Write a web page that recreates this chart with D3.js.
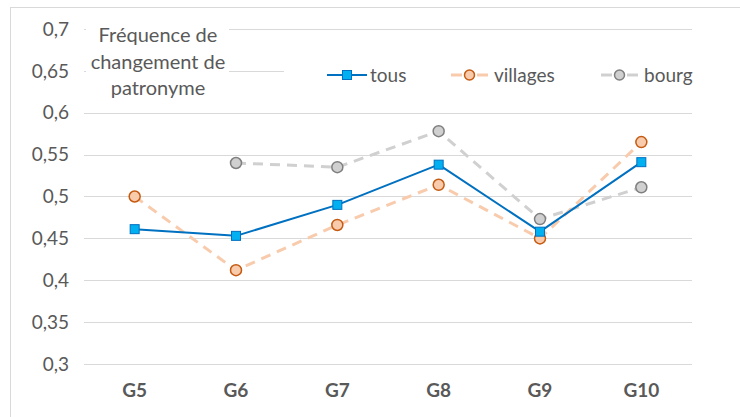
<!DOCTYPE html>
<html lang="fr">
<head>
<meta charset="UTF-8" />
<title>Fréquence de changement de patronyme</title>
<script src="https://d3js.org/d3.v7.min.js"></script>
<style>
  body { margin: 0; background: #fff; }
  svg { font-family: Lato, "Open Sans", sans-serif; }
</style>
</head>
<body>
<div id="container"></div>
<script>
const categories = ["G5", "G6", "G7", "G8", "G9", "G10"]
const tous = [0.461, 0.453, 0.490, 0.538, 0.458, 0.541]
const villages = [0.500, 0.412, 0.466, 0.514, 0.450, 0.565]
const bourg = [null, 0.540, 0.535, 0.578, 0.473, 0.511]
const yTicks = [0.3, 0.35, 0.4, 0.45, 0.5, 0.55, 0.6, 0.65, 0.7]
const titleLines = ["Fréquence de", "changement de", "patronyme"]

const width = 740, height = 417
const margin = { top: 29, right: 48, bottom: 53, left: 84 }

const svg = d3.select("#container").append("svg")
  .attr("width", width).attr("height", height)

// chart frame
svg.append("rect")
  .attr("x", 10.5).attr("y", 7.5)
  .attr("width", 740).attr("height", 420)
  .attr("fill", "none").attr("stroke", "#d9d9d9")

const x = d3.scaleBand()
  .domain(categories)
  .range([margin.left, width - margin.right])

const y = d3.scaleLinear()
  .domain([0.3, 0.7])
  .range([height - margin.bottom, margin.top])

const fmt = d => d3.format(".2~f")(d).replace(".", ",")

// gridlines
svg.append("g")
  .selectAll("line")
  .data(yTicks)
  .join("line")
  .attr("x1", margin.left).attr("x2", width - margin.right)
  .attr("y1", d => Math.round(y(d)) + 0.5).attr("y2", d => Math.round(y(d)) + 0.5)
  .attr("stroke", "#d9d9d9").attr("stroke-width", 1)

// y axis labels
svg.append("g")
  .selectAll("text")
  .data(yTicks)
  .join("text")
  .attr("x", margin.left - 15)
  .attr("y", d => y(d))
  .attr("dy", "0.35em")
  .attr("text-anchor", "end")
  .attr("fill", "#595959")
  .style("font-size", "19px")
  .text(fmt)

// x axis labels
svg.append("g")
  .selectAll("text")
  .data(categories)
  .join("text")
  .attr("x", d => x(d) + x.bandwidth() / 2)
  .attr("y", height - margin.bottom + 33)
  .attr("text-anchor", "middle")
  .attr("fill", "#595959")
  .style("font-size", "19px")
  .style("font-weight", "bold")
  .text(d => d)

const cx = i => x(categories[i]) + x.bandwidth() / 2

const series = [
  { key: "bourg", values: bourg, color: "#d0d0d0", dash: "10,7", marker: "circle", fill: "#d0d0d0", stroke: "#7f7f7f" },
  { key: "villages", values: villages, color: "#f8cbad", dash: "10,7", marker: "circle", fill: "#f8cbad", stroke: "#c55a11" },
  { key: "tous", values: tous, color: "#0070c0", dash: null, marker: "square", fill: "#00b0f0", stroke: "#0070c0" }
]

series.forEach(s => {
  const line = d3.line()
    .defined(d => d != null)
    .x((d, i) => cx(i))
    .y(d => y(d))

  svg.append("path")
    .datum(s.values)
    .attr("fill", "none")
    .attr("stroke", s.color)
    .attr("stroke-width", s.dash ? 3 : 2)
    .attr("stroke-dasharray", s.dash)
    .attr("stroke-linejoin", "round")
    .attr("d", line)

  const pts = s.values.map((v, i) => ({ v, i })).filter(d => d.v != null)
  if (s.marker === "circle") {
    svg.append("g").selectAll("circle")
      .data(pts).join("circle")
      .attr("cx", d => cx(d.i)).attr("cy", d => y(d.v))
      .attr("r", 5.5)
      .attr("fill", s.fill).attr("stroke", s.stroke).attr("stroke-width", 1.5)
  } else {
    svg.append("g").selectAll("rect")
      .data(pts).join("rect")
      .attr("x", d => cx(d.i) - 4.5).attr("y", d => y(d.v) - 4.5)
      .attr("width", 9).attr("height", 9)
      .attr("fill", s.fill).attr("stroke", s.stroke).attr("stroke-width", 1)
  }
})

// title block
svg.append("rect")
  .attr("x", 86).attr("y", 15).attr("width", 143).attr("height", 86)
  .attr("fill", "#fff")
svg.append("text")
  .attr("text-anchor", "middle")
  .attr("fill", "#595959")
  .style("font-size", "20px")
  .selectAll("tspan")
  .data(titleLines)
  .join("tspan")
  .attr("x", 158)
  .attr("y", (d, i) => 42 + i * 26.5)
  .text(d => d)

// legend
svg.append("rect")
  .attr("x", 284).attr("y", 56).attr("width", 420).attr("height", 36)
  .attr("fill", "#fff")

const legendItems = [
  { s: series[2], x: 327 },
  { s: series[1], x: 451 },
  { s: series[0], x: 601 }
]
const ly = 75
legendItems.forEach(({ s, x: lx }) => {
  const g = svg.append("g")
  if (s.dash) {
    g.append("line").attr("x1", lx).attr("x2", lx + 11).attr("y1", ly).attr("y2", ly)
      .attr("stroke", s.color).attr("stroke-width", 3)
    g.append("line").attr("x1", lx + 26).attr("x2", lx + 37).attr("y1", ly).attr("y2", ly)
      .attr("stroke", s.color).attr("stroke-width", 3)
    g.append("circle").attr("cx", lx + 18.5).attr("cy", ly).attr("r", 5)
      .attr("fill", s.fill).attr("stroke", s.stroke).attr("stroke-width", 1.5)
  } else {
    g.append("line").attr("x1", lx).attr("x2", lx + 40).attr("y1", ly).attr("y2", ly)
      .attr("stroke", s.color).attr("stroke-width", 2)
    g.append("rect").attr("x", lx + 15.5).attr("y", ly - 4.5).attr("width", 9).attr("height", 9)
      .attr("fill", s.fill).attr("stroke", s.stroke)
  }
  g.append("text")
    .attr("x", lx + 43).attr("y", ly).attr("dy", "0.35em")
    .attr("fill", "#595959")
    .style("font-size", "19px")
    .text(s.key)
})
</script>
</body>
</html>
